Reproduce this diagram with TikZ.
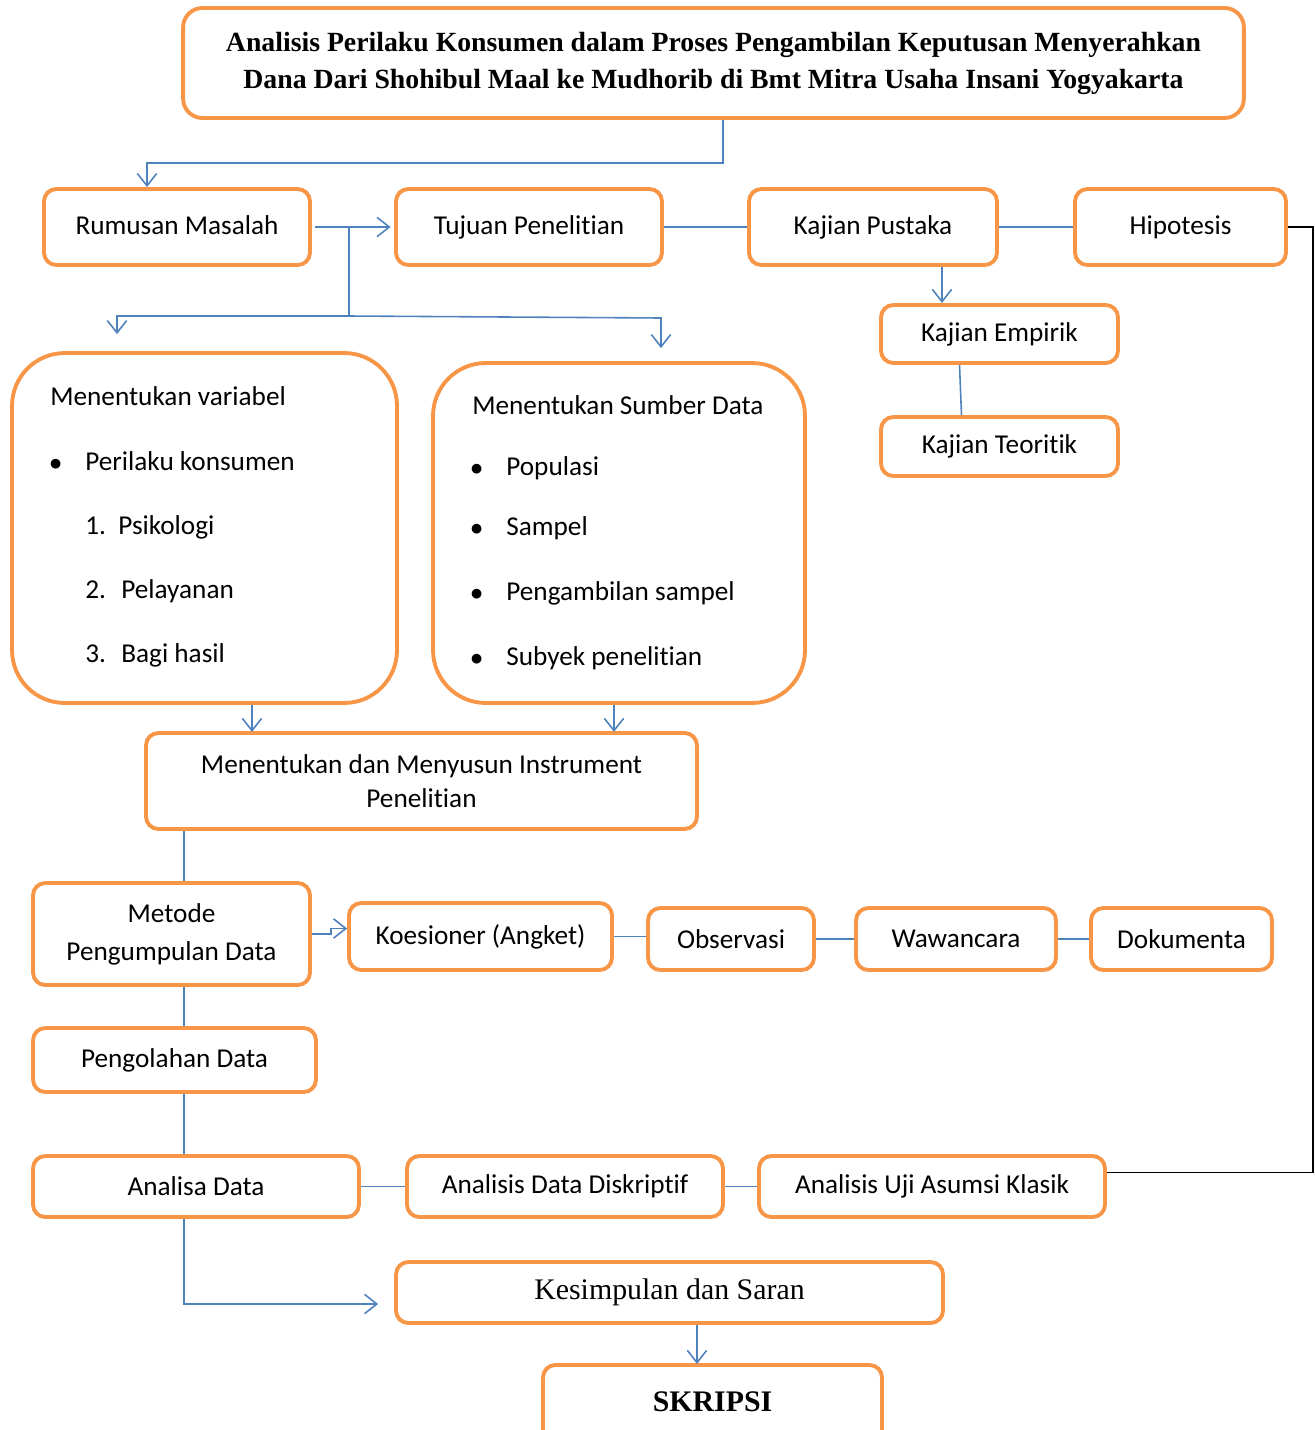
\documentclass[tikz,border=0pt]{standalone}
\usepackage{fontspec}
\setmainfont{Carlito}[Ligatures=NoCommon]
\newfontfamily\timesfont{Liberation Serif}
\usetikzlibrary{arrows.meta}

\definecolor{boxorange}{HTML}{F79646}
\definecolor{linkblue}{HTML}{4F81BD}

\tikzset{
	box/.style={draw=boxorange, fill=white, line width=2.2pt, rounded corners=7pt, align=center, inner sep=0pt, font=\fontsize{15.5}{19}\selectfont},
	bigbox/.style={box, rounded corners=30pt},
	link/.style={draw=linkblue, line width=0.9pt},
	arr/.style={link, -{Straight Barb[length=7pt,width=11pt]}},
	item/.style={anchor=base west, inner sep=0pt, font=\fontsize{15.5}{19}\selectfont},
}

\begin{document}
\begin{tikzpicture}[x=0.02cm, y=-0.02cm]
	\clip (0,0) rectangle (1315,1430);
	% title
	\node [box, rounded corners=11pt, minimum width=21.22cm, minimum height=2.2cm, font=\timesfont\bfseries\fontsize{15.8}{21}\selectfont] (title) at (713.5,63) {\raisebox{3pt}{\begin{tabular}{@{}c@{}}Analisis Perilaku Konsumen dalam Proses Pengambilan Keputusan Menyerahkan\\ Dana Dari Shohibul Maal ke Mudhorib di Bmt Mitra Usaha Insani Yogyakarta\end{tabular}}};
	% first row
	\node [box, minimum width=5.32cm, minimum height=1.52cm] (rumusan) at (177,227) {\raisebox{2pt}{Rumusan Masalah}};
	\node [box, minimum width=5.32cm, minimum height=1.52cm] (tujuan) at (529,227) {\raisebox{2pt}{Tujuan Penelitian}};
	\node [box, minimum width=4.96cm, minimum height=1.52cm] (pustaka) at (873,227) {\raisebox{2pt}{Kajian Pustaka}};
	\node [box, minimum width=4.22cm, minimum height=1.52cm] (hipotesis) at (1180.5,227) {\raisebox{2pt}{Hipotesis}};
	\node [box, minimum width=4.74cm, minimum height=1.16cm] (empirik) at (999.5,334) {Kajian Empirik};
	\node [box, minimum width=4.74cm, minimum height=1.18cm] (teoritik) at (999.5,446.5) {Kajian Teoritik};
	% variables and data sources
	\node [bigbox, minimum width=7.7cm, minimum height=7.0cm] (var) at (204.5,528) {};
	\node [item] (varhead) at (50,405) {Menentukan variabel};
	\node [item] (varb) at (49,470) {$\bullet$};
	\node [item] (var0) at (85,470) {Perilaku konsumen};
	\node [item] (varn1) at (85,534) {1.};
	\node [item] (var1) at (118,534) {Psikologi};
	\node [item] (varn2) at (85,598) {2.};
	\node [item] (var2) at (121,598) {Pelayanan};
	\node [item] (varn3) at (85,662) {3.};
	\node [item] (var3) at (121,662) {Bagi hasil};
	\node [bigbox, minimum width=7.44cm, minimum height=6.8cm] (sumber) at (619,533) {};
	\node [item] (sumberhead) at (472,414) {Menentukan Sumber Data};
	\node [item] (sb1) at (470,475) {$\bullet$};
	\node [item] (sumber1) at (506,475) {Populasi};
	\node [item] (sb2) at (470,535) {$\bullet$};
	\node [item] (sumber2) at (506,535) {Sampel};
	\node [item] (sb3) at (470,600) {$\bullet$};
	\node [item] (sumber3) at (506,600) {Pengambilan sampel};
	\node [item] (sb4) at (470,665) {$\bullet$};
	\node [item] (sumber4) at (506,665) {Subyek penelitian};
	% instrument and methods
	\node [box, minimum width=11.02cm, minimum height=1.92cm] (instr) at (421.5,781) {Menentukan dan Menyusun Instrument\\ Penelitian};
	\node [box, minimum width=5.54cm, minimum height=2.04cm, font=\fontsize{15.5}{21.5}\selectfont] (metode) at (171.5,934) {Metode\\ Pengumpulan Data};
	\node [box, minimum width=5.26cm, minimum height=1.34cm] (koes) at (480.5,936.5) {\raisebox{2pt}{Koesioner (Angket)}};
	\node [box, minimum width=3.32cm, minimum height=1.24cm] (obs) at (731,939) {Observasi};
	\node [box, minimum width=4.0cm, minimum height=1.24cm] (waw) at (956,939) {Wawancara};
	\node [box, minimum width=3.62cm, minimum height=1.24cm] (dok) at (1181.5,939) {Dokumenta};
	\node [box, minimum width=5.66cm, minimum height=1.28cm] (olah) at (174.5,1060) {Pengolahan Data};
	\node [box, minimum width=6.52cm, minimum height=1.22cm] (analisa) at (196,1186.5) {Analisa Data};
	\node [box, minimum width=6.32cm, minimum height=1.22cm] (diskriptif) at (565,1186.5) {Analisis Data Diskriptif};
	\node [box, minimum width=6.92cm, minimum height=1.22cm] (uji) at (932,1186.5) {Analisis Uji Asumsi Klasik};
	\node [box, minimum width=10.94cm, minimum height=1.22cm, font=\timesfont\fontsize{17}{21}\selectfont] (kesimpulan) at (669.5,1292.5) {Kesimpulan dan Saran};
	\node [box, minimum width=6.78cm, minimum height=1.6cm, font=\timesfont\bfseries\fontsize{17}{21}\selectfont] (skripsi) at (712.5,1405) {\raisebox{4pt}{SKRIPSI}};
	% connectors
	\coordinate (split) at (349,228);
	\coordinate (fork) at (349,316);
	\coordinate (spine) at (184,0);
	\draw [arr] ([xshift=0.19cm]title.south) -- ++(0,43) -| ([xshift=-0.6cm]rumusan.north);
	\draw [arr, shorten <=2pt, shorten >=2pt] (rumusan.east) -- (tujuan.west);
	\draw [link] (split) -- (fork);
	\draw [arr, shorten >=0.34cm] (fork) -| ([xshift=-1.75cm]var.north);
	\draw [arr, shorten >=0.26cm] (fork) -- ++(312,2) -- ([xshift=0.84cm]sumber.north);
	\draw [link] (tujuan.east) -- (pustaka.west);
	\draw [link] (pustaka.east) -- (hipotesis.west);
	\draw [arr] ([xshift=1.38cm]pustaka.south) -- ++(0,36);
	\draw [link] ([xshift=-0.8cm]empirik.south) -- ([xshift=-0.76cm]teoritik.north);
	\draw [line width=1pt] (hipotesis.east) -- ++(25,0) |- ([yshift=0.28cm]uji.east);
	\draw [arr] ([xshift=0.95cm]var.south) -- ++(0,27);
	\draw [arr] ([xshift=-0.1cm]sumber.south) -- ++(0,27);
	\draw [link] (spine |- instr.south) -- (spine |- metode.north);
	\draw [arr] (metode.east) -- ++(19,0) |- ([yshift=0.16cm]koes.west);
	\draw [link] (koes.east) -- (obs.west |- koes.east);
	\draw [link] (obs.east) -- (waw.west);
	\draw [link] (waw.east) -- (dok.west);
	\draw [link] (spine |- metode.south) -- (spine |- olah.north);
	\draw [link] (spine |- olah.south) -- (spine |- analisa.north);
	\draw [link] (analisa.east) -- (diskriptif.west);
	\draw [link] (diskriptif.east) -- (uji.west);
	\draw [arr] (spine |- analisa.south) |- ([xshift=-0.32cm, yshift=-0.23cm]kesimpulan.west);
	\draw [arr] ([xshift=0.55cm]kesimpulan.south) -- ++(0,39);
\end{tikzpicture}
\end{document}
